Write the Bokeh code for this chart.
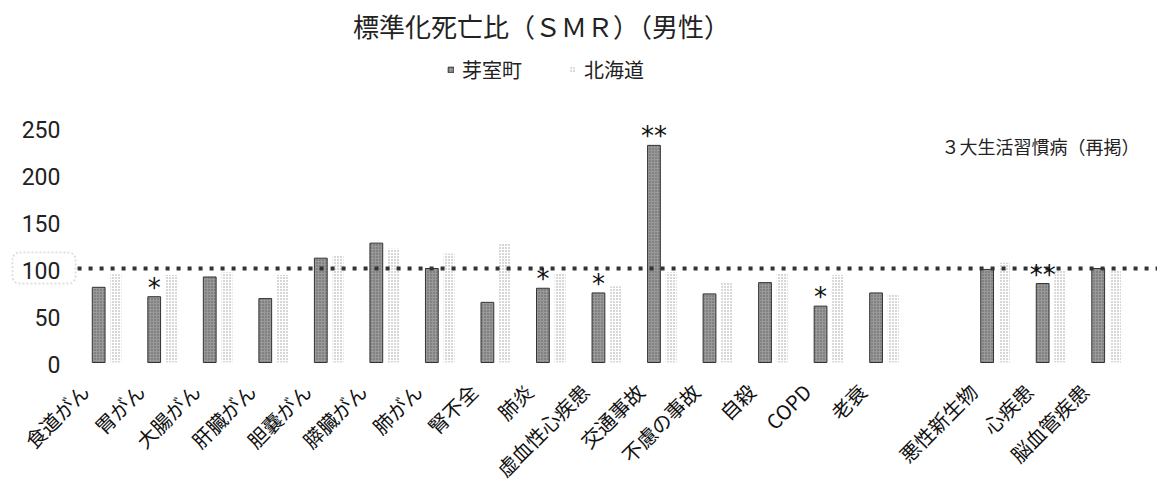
import math
from bokeh.plotting import figure
from bokeh.models import (FactorRange, Range1d, Legend, LegendItem, Label, BoxAnnotation,
                          ColumnDataSource)
from bokeh.transform import dodge
from bokeh.core.properties import value
from bokeh.embed import file_html
from bokeh.resources import INLINE

# ---- data ----
categories = ["食道がん", "胃がん", "大腸がん", "肝臓がん", "胆嚢がん", "膵臓がん", "肺がん",
              "腎不全", "肺炎", "虚血性心疾患", "交通事故", "不慮の事故", "自殺", "COPD", "老衰",
              "悪性新生物", "心疾患", "脳血管疾患"]
memuro = [80, 70, 91, 68, 111, 127, 100, 64, 79, 74, 231, 73, 85, 60, 74, 99, 84, 100]
hokkaido = [94, 93, 96, 93, 114, 121, 116, 126, 95, 81, 96, 85, 95, 93, 72, 106, 98, 98]
signif = ["", "*", "", "", "", "", "", "", "*", "*", "**", "", "", "*", "", "", "**", ""]
y_ticks = [0, 50, 100, 150, 200, 250]
reference_level = 100
series_names = ["芽室町", "北海道"]
title_text = "標準化死亡比（ＳＭＲ）（男性）"
subtitle_text = "３大生活習慣病（再掲）"

# range factors: a leading slot for the value labels, a blank slot before the 3 major diseases
LEAD, GAP = "  ", " "
factors = [LEAD] + categories[:15] + [GAP] + categories[15:]

src = ColumnDataSource(dict(cat=categories, memuro=memuro, hokkaido=hokkaido, sig=signif))
tick_src = ColumnDataSource(dict(x=[LEAD] * len(y_ticks), y=y_ticks, t=[str(v) for v in y_ticks]))
ref_src = ColumnDataSource(dict(x=[categories[0]], y=[reference_level]))

JP = "Noto Sans CJK JP"
NUM = "Roboto"

p = figure(width=1157, height=494,
           x_range=FactorRange(*factors, range_padding=0.418, range_padding_units="absolute"),
           y_range=Range1d(-140.4, 385.1), output_backend="svg", toolbar_location=None,
           min_border_left=0, min_border_right=0, min_border_top=0, min_border_bottom=0)
p.outline_line_color = None
p.grid.visible = False
p.background_fill_color = "white"
p.xaxis.visible = False
p.yaxis.visible = False

r1 = p.vbar(x=dodge("cat", -0.15, range=p.x_range), top="memuro", width=0.23, source=src,
            fill_color="#999999", line_color="#333333", line_width=1,
            hatch_pattern="dot", hatch_color="#333333", hatch_scale=3, hatch_weight=1, hatch_alpha=0.6)
r2 = p.vbar(x=dodge("cat", 0.16, range=p.x_range), top="hokkaido", width=0.2, source=src,
            fill_color="white", line_color=None,
            hatch_pattern="dot", hatch_color="#9a9a9a", hatch_scale=3, hatch_weight=1)

# reference line at SMR = 100
p.ray(x=dodge("x", -0.53, range=p.x_range), y="y", source=ref_src, length=0, angle=0,
      line_color="#333333", line_width=4, line_dash="4 7")

# value-axis labels
p.text(x="x", y="y", text="t", source=tick_src, x_offset=9, y_offset=2, text_align="right",
       text_baseline="middle", text_font=value(NUM), text_font_size="23px", text_color="#222222")
p.add_layout(BoxAnnotation(left=12, right=75, left_units="screen", right_units="screen",
                           bottom=84, top=117, fill_color=None, fill_alpha=0,
                           line_color="#999999", line_width=2, line_dash="2 2", border_radius=7))

# significance marks
p.text(x=dodge("cat", -0.15, range=p.x_range), y="memuro", text="sig", source=src,
       text_font=value("DejaVu Sans"), text_font_size="26px", text_align="center",
       text_baseline="alphabetic", y_offset=-9, text_color="#111111")

# category labels (rotated)
p.text(x="cat", y=0, text="cat", source=src, angle=math.pi / 4,
       text_font=value(JP), text_font_size="20px", text_align="right",
       text_baseline="middle", x_offset=-22, y_offset=25, text_color="#111111")

legend = Legend(items=[LegendItem(label=series_names[0], renderers=[r1]),
                       LegendItem(label=series_names[1], renderers=[r2])],
                orientation="horizontal", location=(447, 410),
                glyph_width=7, glyph_height=7, label_height=18, label_standoff=8,
                spacing=47, padding=0, margin=0,
                label_text_font=JP, label_text_font_size="20px", label_text_color="#222222",
                border_line_color=None, background_fill_alpha=0)
p.add_layout(legend)

p.add_layout(Label(x=541, y=469, x_units="screen", y_units="screen", text=title_text,
                   text_align="center", text_baseline="middle", text_font=JP,
                   text_font_size="26px", text_color="#222222"))

p.add_layout(Label(x=1139, y=349, x_units="screen", y_units="screen", text=subtitle_text,
                   text_align="right", text_baseline="middle", text_font=JP,
                   text_font_size="18px", text_color="#222222"))

open("out.html", "w").write(file_html(p, INLINE))
